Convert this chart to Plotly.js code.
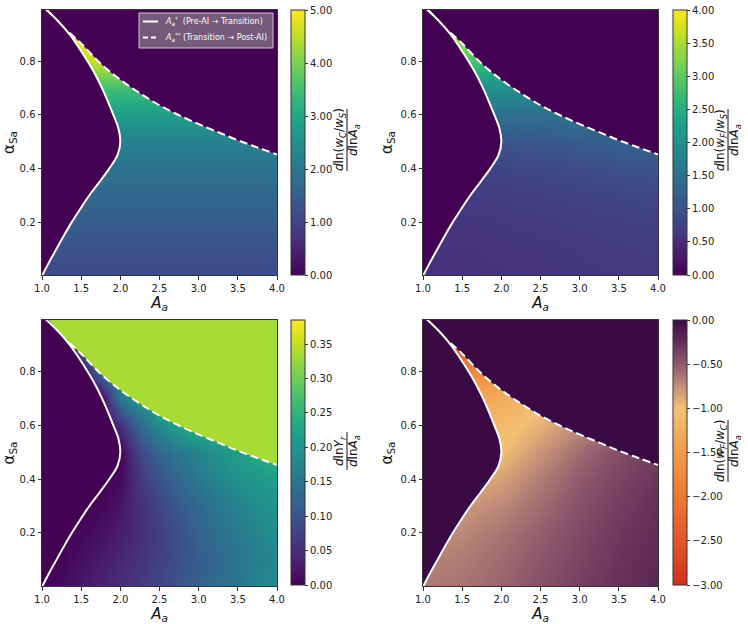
<!DOCTYPE html>
<html><head><meta charset="utf-8">
<script src="https://cdn.plot.ly/plotly-3.0.1.min.js"></script>
<style>html,body{margin:0;padding:0;background:#fff}#chart{width:748px;height:624px}</style>
</head><body><div id="chart"></div>
<script>
// ---------------- data ----------------
const alphaGrid = [0.0,0.1,0.2,0.3,0.4,0.5,0.6,0.7,0.8,0.9,1.0];
const aGrid = [1.0,1.5,2.0,2.5,3.0,3.5,4.0];
const aGridFine = [1.0,1.25,1.5,1.75,2.0,2.25,2.5,2.75,3.0,3.25,3.5,3.75,4.0];

// d ln(wC/wS)/d ln A_a  (rows = alpha, cols = A_a)
const wcRows = [
  [1.10,1.10,1.10,1.10,1.10,1.10,1.10],
  [1.25,1.25,1.25,1.25,1.25,1.25,1.25],
  [1.45,1.45,1.45,1.45,1.45,1.45,1.45],
  [1.65,1.65,1.65,1.65,1.65,1.65,1.65],
  [1.90,1.90,1.90,1.90,1.90,1.90,1.90],
  [2.20,2.20,2.20,2.20,2.20,2.20,2.20],
  [2.75,2.75,2.75,2.75,2.75,2.75,2.75],
  [3.50,3.50,3.50,3.50,3.50,3.50,3.50],
  [4.60,4.60,4.60,4.60,4.60,4.60,4.60],
  [5.00,5.00,5.00,5.00,5.00,5.00,5.00],
  [5.00,5.00,5.00,5.00,5.00,5.00,5.00]
];
// d ln(wF/wS)/d ln A_a
const wfRows = [
  [0.55,0.56,0.58,0.60,0.62,0.64,0.66],
  [0.58,0.58,0.60,0.62,0.65,0.67,0.70],
  [0.62,0.62,0.64,0.67,0.70,0.73,0.76],
  [0.68,0.68,0.70,0.74,0.78,0.82,0.86],
  [0.80,0.80,0.82,0.86,0.92,0.98,1.04],
  [1.05,1.05,1.05,1.08,1.15,1.22,1.30],
  [1.45,1.45,1.45,1.45,1.50,1.55,1.60],
  [2.05,2.05,2.00,1.95,1.95,1.95,1.95],
  [2.90,2.90,2.70,2.50,2.40,2.40,2.40],
  [3.60,3.50,3.30,3.10,3.00,3.00,3.00],
  [4.00,3.90,3.60,3.40,3.30,3.30,3.30]
];
// d ln Y_r / d ln A_a
const yrRows = [
  [0.0,0.012,0.024,0.036,0.050,0.065,0.082,0.100,0.120,0.138,0.155,0.172,0.188],
  [0.0,0.004,0.015,0.027,0.040,0.055,0.072,0.091,0.110,0.128,0.147,0.164,0.180],
  [0.0,0.0,0.006,0.017,0.030,0.047,0.070,0.095,0.120,0.140,0.158,0.174,0.190],
  [0.0,0.0,0.0,0.006,0.022,0.050,0.080,0.107,0.130,0.152,0.170,0.186,0.200],
  [0.0,0.0,0.0,0.0,0.008,0.060,0.100,0.130,0.155,0.175,0.192,0.205,0.218],
  [0.0,0.0,0.0,0.0,0.0,0.080,0.130,0.155,0.175,0.195,0.215,0.235,0.255],
  [0.0,0.0,0.0,0.0,0.050,0.130,0.190,0.225,0.250,0.265,0.280,0.290,0.300],
  [0.0,0.0,0.0,0.0,0.150,0.210,0.250,0.270,0.280,0.290,0.300,0.300,0.300],
  [0.0,0.0,0.0,0.140,0.200,0.250,0.270,0.280,0.290,0.300,0.300,0.300,0.300],
  [0.0,0.0,0.120,0.200,0.250,0.270,0.280,0.290,0.300,0.300,0.300,0.300,0.300],
  [0.0,0.0,0.150,0.220,0.260,0.280,0.290,0.300,0.300,0.300,0.300,0.300,0.300]
];
// d ln(wF/wC)/d ln A_a
const wfcRows = [
  [-0.65,-0.62,-0.55,-0.45,-0.35,-0.27,-0.20],
  [-0.70,-0.66,-0.58,-0.48,-0.38,-0.29,-0.22],
  [-0.76,-0.72,-0.63,-0.52,-0.41,-0.31,-0.24],
  [-0.85,-0.80,-0.72,-0.58,-0.45,-0.34,-0.26],
  [-0.95,-0.93,-0.85,-0.66,-0.50,-0.38,-0.29],
  [-1.05,-1.05,-1.00,-0.78,-0.58,-0.43,-0.33],
  [-1.15,-1.15,-1.10,-0.92,-0.75,-0.55,-0.40],
  [-1.40,-1.40,-1.30,-1.05,-0.85,-0.65,-0.48],
  [-1.90,-1.85,-1.60,-1.25,-0.95,-0.75,-0.58],
  [-2.70,-2.50,-2.00,-1.50,-1.15,-0.90,-0.70],
  [-3.00,-2.80,-2.30,-1.80,-1.40,-1.10,-0.85]
];

// boundary A_a* (Pre-AI -> Transition)
const solidAlpha = [0.0,0.05,0.1,0.15,0.2,0.25,0.3,0.35,0.4,0.45,0.5,0.55,0.6,0.65,0.7,0.75,0.8,0.85,0.9,0.95,1.0];
const solidA     = [1.0,1.09,1.185,1.28,1.38,1.49,1.605,1.735,1.86,1.965,2.0,1.975,1.91,1.84,1.765,1.68,1.58,1.47,1.35,1.20,1.02];
// boundary A_a** (Transition -> Post-AI)
const dashA     = [1.35,1.5,1.75,2.0,2.25,2.5,2.75,3.0,3.25,3.5,3.75,4.0];
const dashAlpha = [0.905,0.865,0.79,0.73,0.68,0.635,0.598,0.565,0.535,0.505,0.478,0.452];
// top edge used to close the Post-AI region
const topEdgeA = [0.9, 4.3];
const topEdgeAlpha = [1.05, 1.05];

const xTicks = [1.0,1.5,2.0,2.5,3.0,3.5,4.0];
const yTicks = [0.2,0.4,0.6,0.8];
const cbTicksWc = [0,1,2,3,4,5];
const cbTicksWf = [0,0.5,1,1.5,2,2.5,3,3.5,4];
const cbTicksYr = [0,0.05,0.1,0.15,0.2,0.25,0.3,0.35];
const cbTicksWfc = [-3,-2.5,-2,-1.5,-1,-0.5,0];
const legendLabels = ['<i>A</i><sub><i>a</i></sub><sup>*</sup>  (Pre-AI → Transition)',
                      '<i>A</i><sub><i>a</i></sub><sup>**</sup> (Transition → Post-AI)'];

// ---------------- styling ----------------
const W = 748, H = 624;
const FONT = 'DejaVu Sans, Arial, sans-serif';
const px = v => v / W;
const py = v => 1 - v / H;
const VIR0 = '#440154';
const wfcScale = [
  [0.0, '#d1311d'], [0.1667, '#e2542a'], [0.3333, '#ee7834'], [0.5, '#f39c4b'],
  [0.6667, '#f3c174'], [0.75, '#c28e78'], [0.8333, '#8f5a6c'], [0.9167, '#622e58'], [1.0, '#3b0a45']
];
const WFC0 = '#3b0a45';

const panels = [
  {xa:'x',  ya:'y',  xg:aGrid, z:wcRows,  cs:'Viridis', zmin:0, zmax:5,     cbx:291, cby:10,  ticks:cbTicksWc,  pre:VIR0, post:VIR0},
  {xa:'x2', ya:'y2', xg:aGrid, z:wfRows,  cs:'Viridis', zmin:0, zmax:4,     cbx:673, cby:10,  ticks:cbTicksWf,  pre:VIR0, post:VIR0},
  {xa:'x3', ya:'y3', xg:aGridFine, z:yrRows, cs:'Viridis', zmin:0, zmax:0.385, cbx:291, cby:320, ticks:cbTicksYr, pre:VIR0, post:'#a8db34'},
  {xa:'x4', ya:'y4', xg:aGrid, z:wfcRows, cs:wfcScale,  zmin:-3, zmax:0,    cbx:673, cby:320, ticks:cbTicksWfc, pre:WFC0, post:WFC0}
];

const traces = [];
panels.forEach(p => {
  traces.push({
    type:'heatmap', x:p.xg, y:alphaGrid, z:p.z, zsmooth:'best',
    colorscale:p.cs, zmin:p.zmin, zmax:p.zmax, xaxis:p.xa, yaxis:p.ya, hoverinfo:'skip',
    colorbar:{x:px(p.cbx), xanchor:'left', y:py(p.cby), yanchor:'top', len:265, lenmode:'pixels',
      thickness:14, thicknessmode:'pixels', xpad:0, ypad:0, outlinewidth:1, outlinecolor:'#333',
      tickvals:p.ticks, tickformat:'.2f', ticks:'outside', ticklen:3, tickcolor:'#333',
      tickfont:{size:10, color:'#222', family:FONT}}
  });
  // invisible top edge, then dashed boundary filled up to it (Post-AI region)
  traces.push({
    type:'scatter', mode:'lines', xaxis:p.xa, yaxis:p.ya, hoverinfo:'skip', showlegend:false,
    x: topEdgeA, y: topEdgeAlpha, line:{width:0, color:p.post}
  });
  traces.push({
    type:'scatter', mode:'lines', xaxis:p.xa, yaxis:p.ya, hoverinfo:'skip', showlegend:false,
    x: dashA, y: dashAlpha, fill:'tonexty', fillcolor:p.post,
    line:{color:'white', width:2, dash:'8px,4px', shape:'spline', smoothing:1}
  });
  // solid boundary filled to the left (Pre-AI region)
  traces.push({
    type:'scatter', mode:'lines', xaxis:p.xa, yaxis:p.ya, hoverinfo:'skip', showlegend:false,
    x: solidA, y: solidAlpha, fill:'tozerox', fillcolor:p.pre,
    line:{color:'white', width:2, shape:'spline', smoothing:1}
  });
});

function xAxis(dom, anchor) {
  return {domain:dom, anchor:anchor, range:[1,4], tickvals:xTicks, tickformat:'.1f', ticks:'outside',
    ticklen:3.5, tickcolor:'#333', showline:true, mirror:true, linecolor:'#333', linewidth:1,
    showgrid:false, zeroline:false, tickfont:{size:10, color:'#222', family:FONT},
    title:{text:'<i>A</i><sub><i>a</i></sub>', font:{size:15, color:'#111', family:FONT}, standoff:3}};
}
function yAxis(dom, anchor) {
  return {domain:dom, anchor:anchor, range:[0.003,0.99], tickvals:yTicks, tickformat:'.1f', ticks:'outside',
    ticklen:3.5, tickcolor:'#333', showline:true, mirror:true, linecolor:'#333', linewidth:1,
    showgrid:false, zeroline:false, tickfont:{size:10, color:'#222', family:FONT},
    title:{text:'α<sub>Sa</sub>', font:{size:15, color:'#111', family:FONT}, standoff:4}};
}
const xL = [px(42), px(277)], xR = [px(423), px(658)];
const yT = [py(275), py(10)], yB = [py(586), py(320)];

const numerators = [
  '<i>d</i>ln(<i>w</i><sub><i>C</i></sub>/<i>w</i><sub><i>S</i></sub>)',
  '<i>d</i>ln(<i>w</i><sub><i>F</i></sub>/<i>w</i><sub><i>S</i></sub>)',
  '<i>d</i>ln<i>Y</i><sub><i>r</i></sub>',
  '<i>d</i>ln(<i>w</i><sub><i>F</i></sub>/<i>w</i><sub><i>C</i></sub>)'
];
const denom = '<i>d</i>ln<i>A</i><sub><i>a</i></sub>';
const titlePos = [{x:340, y:140}, {x:721, y:140}, {x:340, y:451}, {x:721, y:451}];
const barHalf = [31, 31, 19, 31];
const annotations = [], shapes = [];
titlePos.forEach((t, i) => {
  annotations.push({xref:'paper', yref:'paper', x:px(t.x), y:py(t.y), text:numerators[i], showarrow:false,
    textangle:-90, xanchor:'center', yanchor:'middle', font:{size:12, color:'#111', family:FONT}});
  annotations.push({xref:'paper', yref:'paper', x:px(t.x+14), y:py(t.y), text:denom, showarrow:false,
    textangle:-90, xanchor:'center', yanchor:'middle', font:{size:12, color:'#111', family:FONT}});
  shapes.push({type:'line', xref:'paper', yref:'paper', x0:px(t.x+7), x1:px(t.x+7),
    y0:py(t.y - barHalf[i]), y1:py(t.y + barHalf[i]), line:{color:'#111', width:1}});
});

// legend box (drawn in panel 1, top right)
shapes.push({type:'rect', xref:'paper', yref:'paper', x0:px(139), x1:px(273), y0:py(48), y1:py(13),
  fillcolor:'rgba(150,150,150,0.6)', line:{color:'rgba(215,215,215,0.9)', width:1}, layer:'above'});
shapes.push({type:'line', xref:'paper', yref:'paper', x0:px(143), x1:px(158), y0:py(21.5), y1:py(21.5),
  line:{color:'white', width:2}});
shapes.push({type:'line', xref:'paper', yref:'paper', x0:px(143), x1:px(158), y0:py(37.5), y1:py(37.5),
  line:{color:'white', width:2, dash:'5px,3px'}});
legendLabels.forEach((lab, i) => {
  annotations.push({xref:'paper', yref:'paper', x:px(163), y:py(i === 0 ? 21.5 : 37.5), text:lab,
    showarrow:false, xanchor:'left', yanchor:'middle', font:{size:8, color:'white', family:FONT}});
});

const layout = {
  width:W, height:H, margin:{l:0, r:0, t:0, b:0}, paper_bgcolor:'white', plot_bgcolor:VIR0,
  font:{family:FONT, color:'#222'}, showlegend:false,
  xaxis:xAxis(xL,'y'), yaxis:yAxis(yT,'x'),
  xaxis2:xAxis(xR,'y2'), yaxis2:yAxis(yT,'x2'),
  xaxis3:xAxis(xL,'y3'), yaxis3:yAxis(yB,'x3'),
  xaxis4:xAxis(xR,'y4'), yaxis4:yAxis(yB,'x4'),
  annotations:annotations, shapes:shapes
};
Plotly.newPlot('chart', traces, layout, {staticPlot:true, displayModeBar:false});
</script></body></html>
